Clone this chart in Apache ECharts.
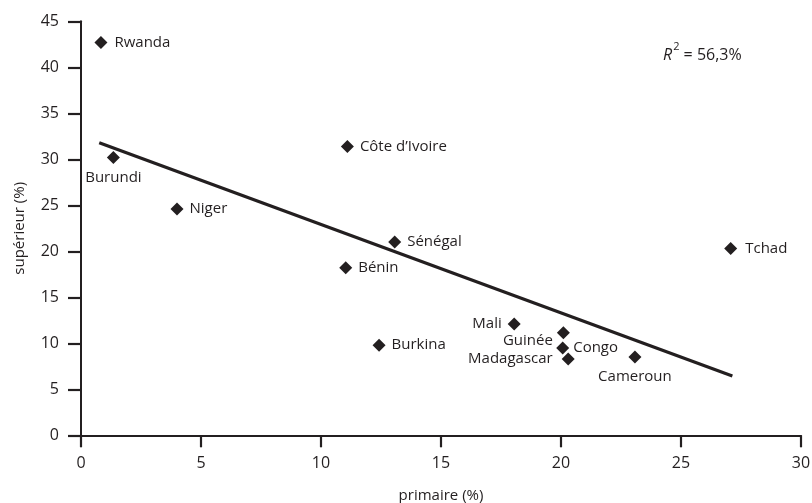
<!DOCTYPE html>
<html>
<head>
<meta charset="utf-8">
<script src="https://cdn.jsdelivr.net/npm/echarts@6/dist/echarts.min.js"></script>
<style>
  html, body { margin: 0; padding: 0; background: #fff; }
  #chart { width: 812px; height: 503px; }
</style>
</head>
<body>
<div id="chart"></div>
<script>
// Pays et parts (%) : primaire vs supérieur
const countries = ['Rwanda', 'Burundi', 'Niger', "Côte d’Ivoire", 'Sénégal', 'Bénin', 'Tchad',
                   'Burkina', 'Mali', 'Guinée', 'Congo', 'Madagascar', 'Cameroun'];
const primaire  = [0.83, 1.35, 4.0, 11.1, 13.07, 11.03, 27.07, 12.42, 18.05, 20.1, 20.07, 20.3, 23.08];
const superieur = [42.7, 30.2, 24.6, 31.4, 21.0, 18.2, 20.3, 9.8, 12.1, 11.15, 9.5, 8.3, 8.5];
// Étiquettes : position de chaque nom par rapport à son point
const labelPos  = ['right', 'bottom', 'right', 'right', 'right', 'right', 'right',
                   'right', 'left', 'left', 'right', 'left', 'bottom'];
// Droite de tendance (extrémités)
const trendX = [0.76, 27.14];
const trendY = [31.8, 6.45];
const xTicks = [0, 5, 10, 15, 20, 25, 30];
const yTicks = [0, 5, 10, 15, 20, 25, 30, 35, 40, 45];
const r2Text = '56,3%';

const ink = '#231f20';
const font = '"Open Sans", "DejaVu Sans", sans-serif';

const labelTweaks = {
  'Rwanda': { distance: 7 },
  'Tchad': { distance: 8 },
  'Guinée': { offset: [0, 8], distance: 4 },
  'Madagascar': { distance: 9 },
  'Congo': { distance: 4 },
  'Mali': { distance: 6 },
  'Burundi': { distance: 6 },
  'Cameroun': { distance: 6 }
};

const points = countries.map((name, i) => {
  const t = labelTweaks[name] || {};
  return {
    name: name,
    value: [primaire[i], superieur[i]],
    label: Object.assign({ position: labelPos[i], distance: 6 }, t)
  };
});

const chart = echarts.init(document.getElementById('chart'), null, { renderer: 'canvas' });
chart.setOption({
  animation: false,
  backgroundColor: '#fff',
  grid: { left: 81, right: 11, top: 21.3, bottom: 67.7, containLabel: false, outerBoundsMode: 'none' },
  xAxis: {
    type: 'value', min: xTicks[0], max: xTicks[xTicks.length - 1], interval: 5,
    name: 'primaire (%)', nameLocation: 'middle', nameGap: 53,
    nameTextStyle: { color: ink, fontFamily: font, fontSize: 15 },
    axisLine: { show: true, lineStyle: { color: ink, width: 2 } },
    axisTick: { show: true, inside: false, length: 12, lineStyle: { color: ink, width: 2.2 } },
    axisLabel: { color: ink, fontFamily: font, fontSize: 16, margin: 20 },
    splitLine: { show: false }
  },
  yAxis: {
    type: 'value', min: yTicks[0], max: yTicks[yTicks.length - 1], interval: 5,
    name: 'supérieur (%)', nameLocation: 'middle', nameGap: 54,
    nameTextStyle: { color: ink, fontFamily: font, fontSize: 15 },
    axisLine: { show: true, lineStyle: { color: ink, width: 2 } },
    axisTick: { show: true, inside: false, length: 13, lineStyle: { color: ink, width: 2.2 } },
    axisLabel: { color: ink, fontFamily: font, fontSize: 16, margin: 22 },
    splitLine: { show: false }
  },
  series: [
    {
      type: 'line',
      data: trendX.map((x, i) => [x, trendY[i]]),
      symbol: 'none',
      lineStyle: { color: ink, width: 3.2 },
      z: 2,
      silent: true
    },
    {
      type: 'scatter',
      data: points,
      symbol: 'diamond',
      symbolSize: 13,
      itemStyle: { color: ink, opacity: 1 },
      label: {
        show: true,
        formatter: '{b}',
        color: ink,
        fontFamily: font,
        fontSize: 15
      },
      z: 3
    }
  ],
  graphic: [
    {
      type: 'text',
      left: 663,
      top: 41,
      style: {
        text: '{r|R}{s|2}{t| = ' + r2Text + '}',
        rich: {
          r: { fontFamily: font, fontSize: 16, fontStyle: 'italic', fill: ink, lineHeight: 22, verticalAlign: 'bottom' },
          s: { fontFamily: font, fontSize: 11, fill: ink, lineHeight: 22, verticalAlign: 'top', padding: [0, 0, 0, 1] },
          t: { fontFamily: font, fontSize: 16, fill: ink, lineHeight: 22, verticalAlign: 'bottom' }
        }
      }
    }
  ]
});
</script>
</body>
</html>
